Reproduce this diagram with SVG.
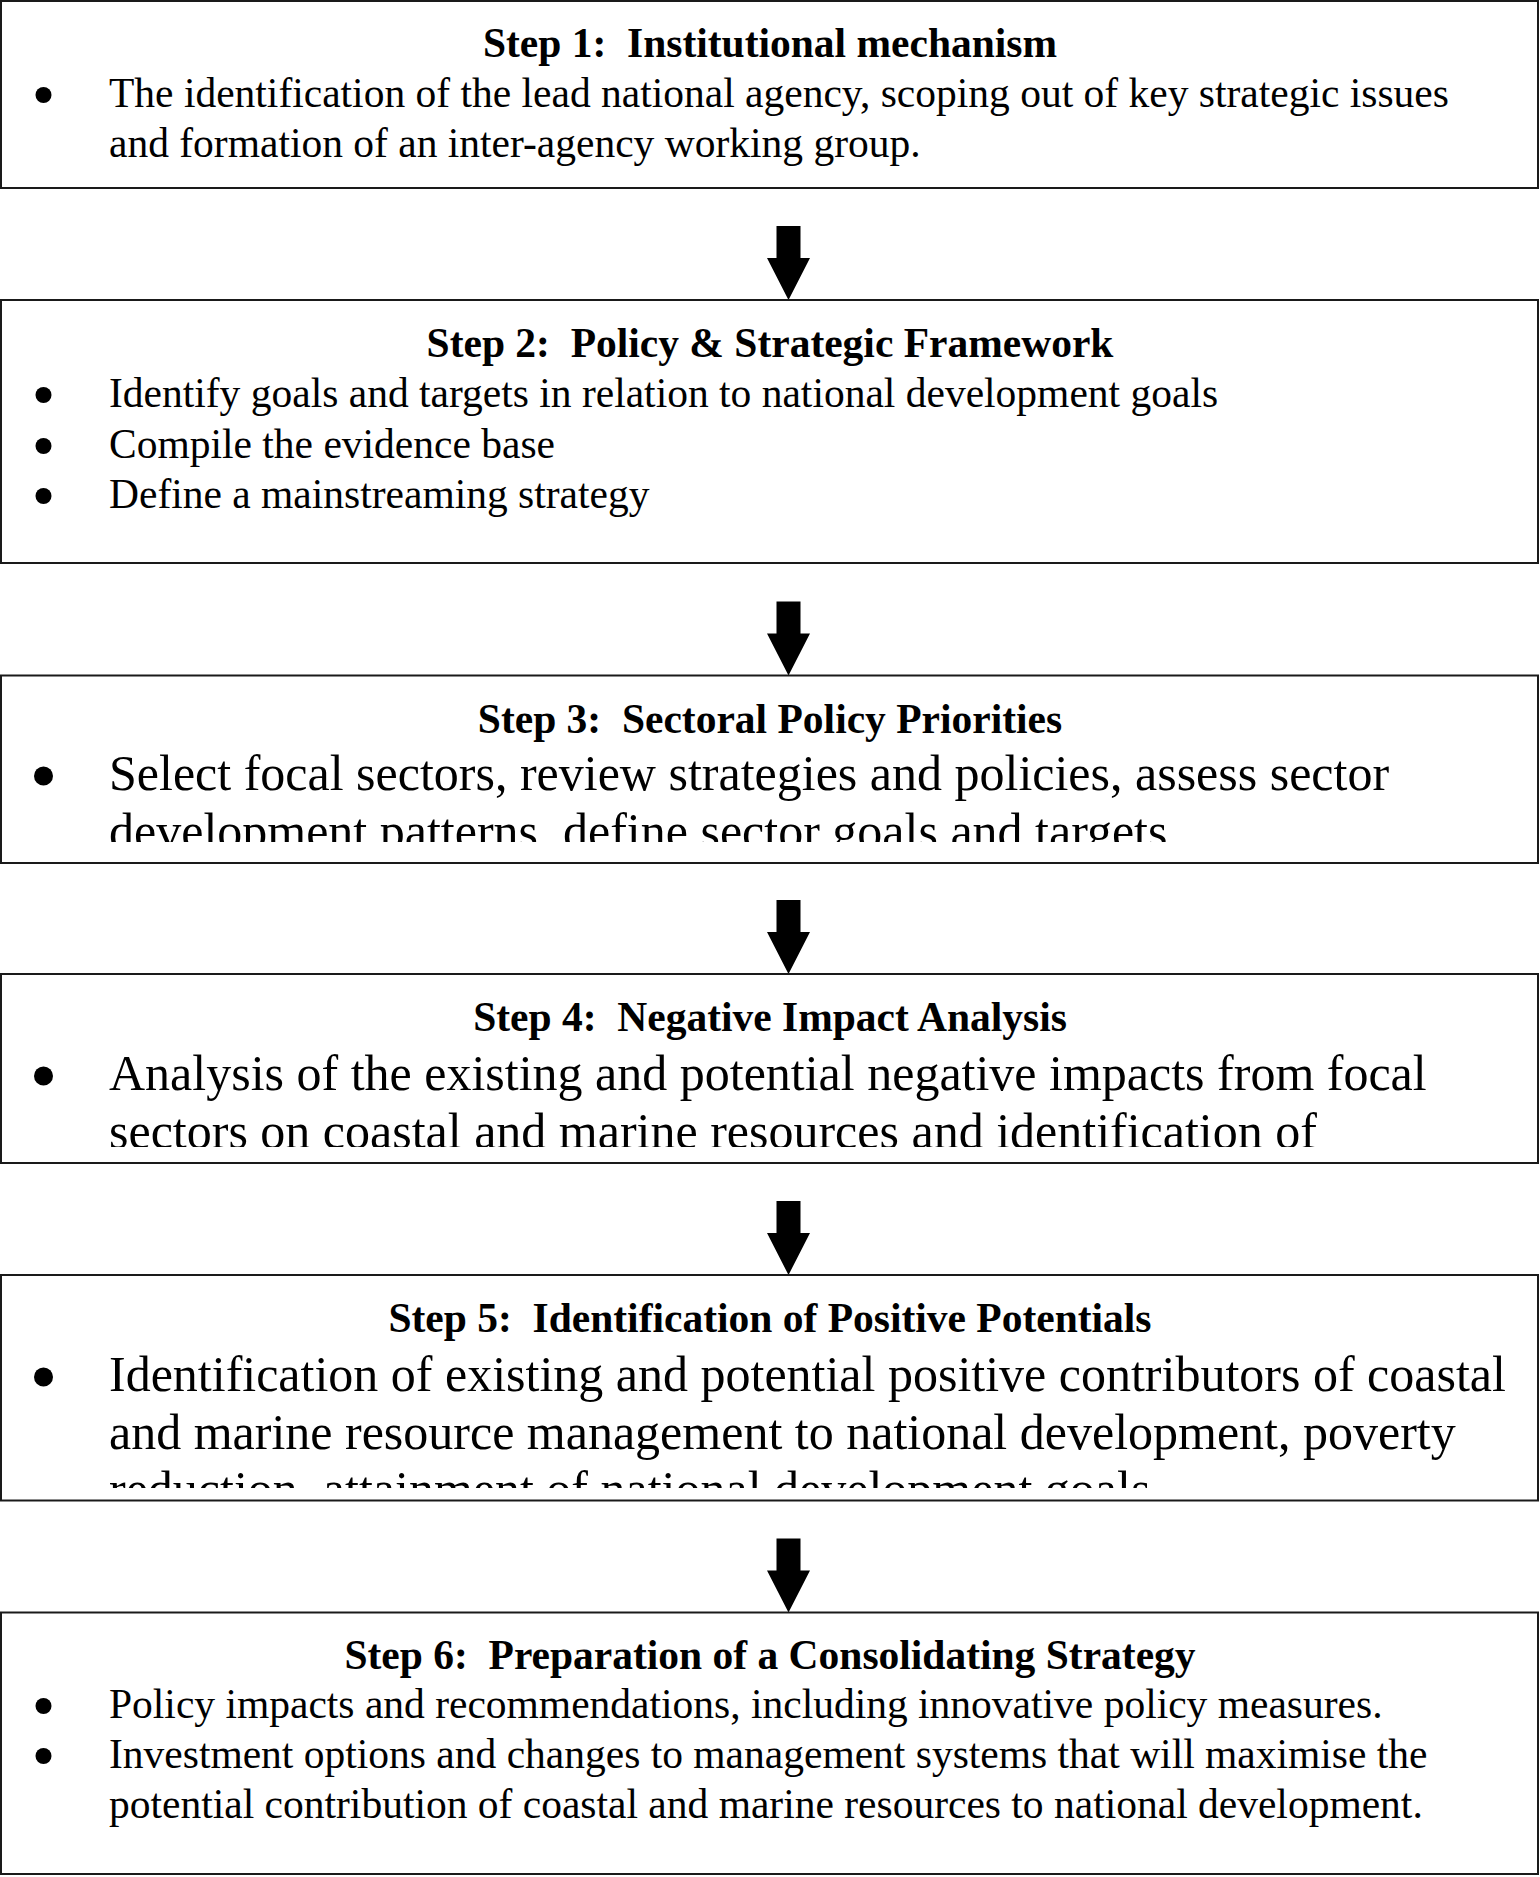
<svg xmlns="http://www.w3.org/2000/svg" width="1540" height="1877" viewBox="0 0 1540 1877">
<style>
.box{fill:#fff;stroke:#1a1a1a;stroke-width:2}
.t{font-family:"Liberation Serif","Times New Roman",serif;font-weight:bold;font-size:41.5px;fill:#000;text-anchor:middle}
.b{font-family:"Liberation Serif","Times New Roman",serif;font-size:41.5px;fill:#000}
.B{font-family:"Liberation Serif","Times New Roman",serif;font-size:50px;fill:#000}
.dot{fill:#000}
.arr{fill:#000}
</style>
<defs>
<clipPath id="c3"><rect x="0" y="676" width="1540" height="166"/></clipPath>
<clipPath id="c4"><rect x="0" y="975" width="1540" height="172"/></clipPath>
<clipPath id="c5"><rect x="0" y="1276" width="1540" height="212"/></clipPath>
</defs>
<rect width="1540" height="1877" fill="#fff"/>
<g id="connectors">
<polygon class="arr" points="776.5,226 800.5,226 800.5,258 810,258 788.5,300 767,258 776.5,258"/>
<polygon class="arr" points="776.5,601.5 800.5,601.5 800.5,633.5 810,633.5 788.5,675.5 767,633.5 776.5,633.5"/>
<polygon class="arr" points="776.5,900 800.5,900 800.5,932 810,932 788.5,974 767,932 776.5,932"/>
<polygon class="arr" points="776.5,1201 800.5,1201 800.5,1233 810,1233 788.5,1275 767,1233 776.5,1233"/>
<polygon class="arr" points="776.5,1538.5 800.5,1538.5 800.5,1570.5 810,1570.5 788.5,1612.5 767,1570.5 776.5,1570.5"/>
</g>
<g id="step1">
<rect class="box" x="1" y="1" width="1537" height="187"/>
<text class="t" x="770" y="57">Step 1:&#160; Institutional mechanism</text>
<circle class="dot" cx="43.5" cy="95" r="8"/>
<text class="b" x="109" y="107">The identification of the lead national agency, scoping out of key strategic issues</text>
<text class="b" x="109" y="157">and formation of an inter-agency working group.</text>
</g>
<g id="step2">
<rect class="box" x="1" y="300" width="1537" height="263"/>
<text class="t" x="770" y="357">Step 2:&#160; Policy &amp; Strategic Framework</text>
<circle class="dot" cx="43.5" cy="395" r="8"/>
<text class="b" x="109" y="407">Identify goals and targets in relation to national development goals</text>
<circle class="dot" cx="43.5" cy="446" r="8"/>
<text class="b" x="109" y="458">Compile the evidence base</text>
<circle class="dot" cx="43.5" cy="496" r="8"/>
<text class="b" x="109" y="508">Define a mainstreaming strategy</text>
</g>
<g id="step3">
<rect class="box" x="1" y="675.5" width="1537" height="187.5"/>
<text class="t" x="770" y="732.5">Step 3:&#160; Sectoral Policy Priorities</text>
<circle class="dot" cx="43.5" cy="776" r="9.5"/>
<g clip-path="url(#c3)">
<text class="B" x="109" y="790">Select focal sectors, review strategies and policies, assess sector</text>
<text class="B" x="109" y="847.5">development patterns, define sector goals and targets</text>
</g>
</g>
<g id="step4">
<rect class="box" x="1" y="974" width="1537" height="189"/>
<text class="t" x="770" y="1031">Step 4:&#160; Negative Impact Analysis</text>
<circle class="dot" cx="43.5" cy="1076" r="9.5"/>
<g clip-path="url(#c4)">
<text class="B" x="109" y="1090">Analysis of the existing and potential negative impacts from focal</text>
<text class="B" x="109" y="1147.5">sectors on coastal and marine resources and identification of</text>
</g>
</g>
<g id="step5">
<rect class="box" x="1" y="1275" width="1537" height="225.5"/>
<text class="t" x="770" y="1332">Step 5:&#160; Identification of Positive Potentials</text>
<circle class="dot" cx="43.5" cy="1377" r="9.5"/>
<g clip-path="url(#c5)">
<text class="B" x="109" y="1391">Identification of existing and potential positive contributors of coastal</text>
<text class="B" x="109" y="1448.5">and marine resource management to national development, poverty</text>
<text class="B" x="109" y="1506">reduction, attainment of national development goals</text>
</g>
</g>
<g id="step6">
<rect class="box" x="1" y="1612.5" width="1537" height="261.5"/>
<text class="t" x="770" y="1669">Step 6:&#160; Preparation of a Consolidating Strategy</text>
<circle class="dot" cx="43.5" cy="1706" r="8"/>
<text class="b" x="109" y="1718">Policy impacts and recommendations, including innovative policy measures.</text>
<circle class="dot" cx="43.5" cy="1756" r="8"/>
<text class="b" x="109" y="1768">Investment options and changes to management systems that will maximise the</text>
<text class="b" x="109" y="1818">potential contribution of coastal and marine resources to national development.</text>
</g>
</svg>
